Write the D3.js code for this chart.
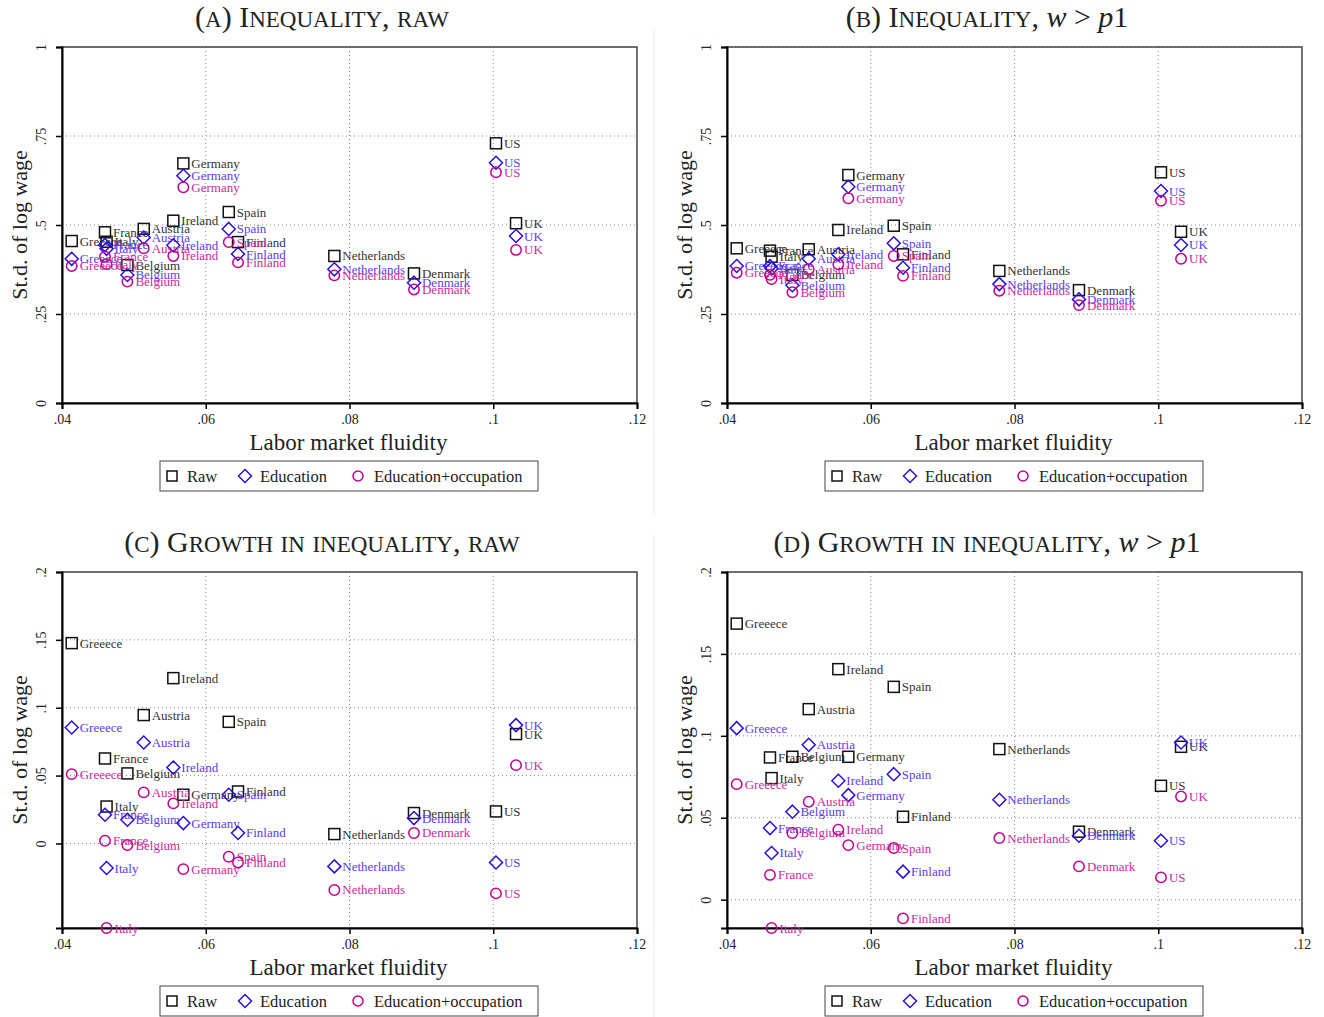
<!DOCTYPE html>
<html><head><meta charset="utf-8">
<script src="https://cdn.jsdelivr.net/npm/d3@7"></script>
<style>
body{margin:0;background:#fff;}
svg text{font-family:"Liberation Serif","Times New Roman",serif;}
</style></head>
<body>
<svg id="chart" width="1324" height="1017"></svg>
<script>
// ---------- DATA ----------
const countries = ["Greeece","France","Italy","Belgium","Austria","Ireland","Germany","Spain","Finland","Netherlands","Denmark","US","UK"];
const fluidity  = [0.04135,0.04598,0.0462,0.0491,0.05137,0.05549,0.05688,0.0632,0.06449,0.07789,0.08897,0.10038,0.10317];

const rawA = [0.455,0.4795,0.453,0.3876,0.489,0.512,0.673,0.5365,0.452,0.413,0.364,0.7295,0.505];
const eduA = [0.405,0.444,0.433,0.3596,0.465,0.443,0.6385,0.489,0.4185,0.3755,0.338,0.675,0.469];
const occA = [0.385,0.411,0.39,0.341,0.4345,0.413,0.606,0.452,0.395,0.3586,0.319,0.648,0.43];

const rawB = [0.4345,0.428,0.411,0.3596,0.4317,0.486,0.6404,0.498,0.4176,0.371,0.317,0.648,0.481];
const eduB = [0.385,0.385,0.378,0.331,0.405,0.4176,0.6077,0.4485,0.380,0.334,0.291,0.5955,0.444];
const occB = [0.366,0.36,0.348,0.311,0.376,0.3895,0.575,0.413,0.357,0.3155,0.275,0.568,0.405];

const rawC = [0.1476,0.0626,0.0272,0.0516,0.0946,0.1218,0.0359,0.0896,0.0383,0.0069,0.0224,0.0236,0.0806];
const eduC = [0.0854,0.0211,-0.0181,0.0175,0.0744,0.056,0.015,0.0359,0.0077,-0.0169,0.0187,-0.014,0.0872];
const occC = [0.0511,0.002,-0.0623,-0.0012,0.0376,0.0295,-0.0189,-0.0098,-0.014,-0.0343,0.0077,-0.0368,0.0577];

const rawD = [0.1685,0.0868,0.0742,0.0872,0.1163,0.1407,0.0872,0.1299,0.0506,0.0919,0.0415,0.0695,0.0933];
const eduD = [0.1047,0.0437,0.0285,0.0537,0.0945,0.0726,0.0638,0.0766,0.0171,0.061,0.039,0.036,0.0959];
const occD = [0.0705,0.0151,-0.0173,0.0407,0.0598,0.0427,0.0333,0.0315,-0.0114,0.0376,0.0203,0.0136,0.063];

const xTicks = [0.04,0.06,0.08,0.10,0.12];
const xTickLabels = [".04",".06",".08",".1",".12"];
const yTicksLevel = [0,0.25,0.5,0.75,1];
const yTickLabelsLevel = ["0",".25",".5",".75","1"];
const yTicksGrowth = [0,0.05,0.1,0.15,0.2];
const yTickLabelsGrowth = ["0",".05",".1",".15",".2"];
const seriesNames = ["Raw","Education","Education+occupation"];
const titles = ["(a) Inequality, raw","(b) Inequality, ","(c) Growth in inequality, raw","(d) Growth in inequality, "];

// ---------- STYLE ----------
const markerColor = ["#111111","#2b10d8","#c4008e"];
const labelColor  = ["#333333","#5a3cf0","#cc2a9c"];
const svg = d3.select("#chart");

function marker(g, type, x, y, col){
  if(type===0){
    g.append("rect").attr("x",x-5.5).attr("y",y-5.5).attr("width",11).attr("height",11)
      .attr("fill","none").attr("stroke",col).attr("stroke-width",1.5);
  } else if(type===1){
    const s=6.5;
    g.append("path").attr("d",`M${x},${y-s}L${x+s},${y}L${x},${y+s}L${x-s},${y}Z`)
      .attr("fill","none").attr("stroke",col).attr("stroke-width",1.5);
  } else {
    g.append("circle").attr("cx",x).attr("cy",y).attr("r",5.2)
      .attr("fill","none").attr("stroke",col).attr("stroke-width",1.5);
  }
}

// manual small caps: lowercase letters -> uppercase at small size
function smallCaps(t, str, big, small){
  const runs = [];
  for(const ch of str){
    const isLower = ch !== ch.toUpperCase();
    const sz = isLower ? small : big;
    const c = isLower ? ch.toUpperCase() : ch;
    if(runs.length && runs[runs.length-1].sz===sz) runs[runs.length-1].s += c;
    else runs.push({sz:sz, s:c});
  }
  runs.forEach(r=>t.append("tspan").attr("font-size",r.sz).text(r.s));
}

function panel(cfg){
  const g = svg.append("g");
  const x = d3.scaleLinear().domain([0.04,0.12]).range([cfg.left, cfg.left+575]);
  const y = d3.scaleLinear().domain(cfg.yDomain).range([cfg.top+356, cfg.top]);
  const left = cfg.left, right = cfg.left+575, top = cfg.top, bottom = cfg.top+356;

  // title
  const t = g.append("text").attr("x",cfg.titleX).attr("y",cfg.top-20)
    .attr("text-anchor","middle").attr("font-size",30).attr("fill","#222");
  smallCaps(t, cfg.title, 30, 23);
  if(cfg.cond){
    t.append("tspan").attr("font-size",30).style("font-style","italic").text("w");
    t.append("tspan").attr("font-size",30).text(" > ");
    t.append("tspan").attr("font-size",30).style("font-style","italic").text("p");
    t.append("tspan").attr("font-size",30).text("1");
  }

  // gridlines
  cfg.yTicks.forEach(v=>{
    if(v===cfg.yDomain[0]) return;
    g.append("line").attr("x1",left).attr("x2",right).attr("y1",y(v)).attr("y2",y(v))
      .attr("stroke","#8a8a8a").attr("stroke-width",1).attr("stroke-dasharray","1,3");
  });
  xTicks.slice(1,-1).forEach(v=>{
    g.append("line").attr("x1",x(v)).attr("x2",x(v)).attr("y1",top).attr("y2",bottom)
      .attr("stroke","#8a8a8a").attr("stroke-width",1).attr("stroke-dasharray","1,3");
  });
  // frame
  g.append("rect").attr("x",left).attr("y",top).attr("width",575).attr("height",356)
    .attr("fill","none").attr("stroke","#444").attr("stroke-width",1.5);

  // axes
  const yAxis = d3.axisLeft(y).tickValues(cfg.yTicks).tickFormat((d,i)=>cfg.yTickLabels[i]).tickSize(6).tickPadding(4);
  const ya = g.append("g").attr("transform",`translate(${left},0)`).call(yAxis);
  ya.select(".domain").attr("stroke","#000").attr("stroke-width",2);
  ya.selectAll(".tick line").attr("stroke","#000").attr("stroke-width",1.5);
  ya.selectAll(".tick text").attr("font-size",14).attr("fill","#222")
    .attr("font-family","Liberation Serif")
    .attr("text-anchor","middle").attr("x",null).attr("dy",null)
    .attr("transform","translate(-16,0) rotate(-90)");

  const xAxis = d3.axisBottom(x).tickValues(xTicks).tickFormat((d,i)=>xTickLabels[i]).tickSize(6).tickPadding(5);
  const xa = g.append("g").attr("transform",`translate(0,${bottom})`).call(xAxis);
  xa.select(".domain").attr("stroke","#000").attr("stroke-width",2);
  xa.selectAll(".tick line").attr("stroke","#000").attr("stroke-width",1.5);
  xa.selectAll(".tick text").attr("font-size",14).attr("fill","#222").attr("font-family","Liberation Serif");

  // axis titles
  g.append("text").attr("x",(left+right)/2-1).attr("y",bottom+47).attr("text-anchor","middle")
    .attr("font-size",23).attr("fill","#222").text("Labor market fluidity");
  g.append("text").attr("transform",`translate(${left-35},${(top+bottom)/2}) rotate(-90)`)
    .attr("text-anchor","middle").attr("font-size",22).attr("fill","#222").text("St.d. of log wage");

  // points + labels
  cfg.series.forEach((vals,si)=>{
    vals.forEach((v,i)=>{
      const px = x(fluidity[i]), py = y(v);
      marker(g, si, px, py, markerColor[si]);
      g.append("text").attr("x",px+8).attr("y",py+4.5).attr("font-size",13)
        .attr("fill",labelColor[si]).text(countries[i]);
    });
  });

  // legend
  const lx = left+98, ly = bottom+58;
  g.append("rect").attr("x",lx).attr("y",ly).attr("width",378).attr("height",30)
    .attr("fill","#fff").attr("stroke","#444").attr("stroke-width",1);
  const items = [[lx+12,lx+27],[lx+85,lx+100],[lx+198,lx+214]];
  items.forEach((it,si)=>{
    const cy = ly+15;
    if(si===0){
      g.append("rect").attr("x",it[0]-5).attr("y",cy-5).attr("width",10).attr("height",10)
        .attr("fill","none").attr("stroke",markerColor[0]).attr("stroke-width",1.5);
    } else if(si===1){
      const s=6.5;
      g.append("path").attr("d",`M${it[0]},${cy-s}L${it[0]+s},${cy}L${it[0]},${cy+s}L${it[0]-s},${cy}Z`)
        .attr("fill","none").attr("stroke",markerColor[1]).attr("stroke-width",1.5);
    } else {
      g.append("circle").attr("cx",it[0]).attr("cy",cy).attr("r",5)
        .attr("fill","none").attr("stroke",markerColor[2]).attr("stroke-width",1.5);
    }
    g.append("text").attr("x",it[1]).attr("y",cy+5.5).attr("font-size",16.5).attr("fill","#222").text(seriesNames[si]);
  });
}

// separators
svg.append("line").attr("x1",654).attr("x2",654).attr("y1",30).attr("y2",515).attr("stroke","#e2e8ec").attr("stroke-width",1);
svg.append("line").attr("x1",654).attr("x2",654).attr("y1",535).attr("y2",1017).attr("stroke","#e2e8ec").attr("stroke-width",1);

panel({left:62, top:47, titleX:322, title:titles[0], yDomain:[0,1], yTicks:yTicksLevel, yTickLabels:yTickLabelsLevel, series:[rawA,eduA,occA]});
panel({left:727, top:47, titleX:987, title:titles[1], cond:true, yDomain:[0,1], yTicks:yTicksLevel, yTickLabels:yTickLabelsLevel, series:[rawB,eduB,occB]});
panel({left:62, top:572, titleX:322, title:titles[2], yDomain:[d3.min(occC),0.2], yTicks:yTicksGrowth, yTickLabels:yTickLabelsGrowth, series:[rawC,eduC,occC]});
panel({left:727, top:572, titleX:987, title:titles[3], cond:true, yDomain:[d3.min(occD),0.2], yTicks:yTicksGrowth, yTickLabels:yTickLabelsGrowth, series:[rawD,eduD,occD]});
</script>
</body></html>
